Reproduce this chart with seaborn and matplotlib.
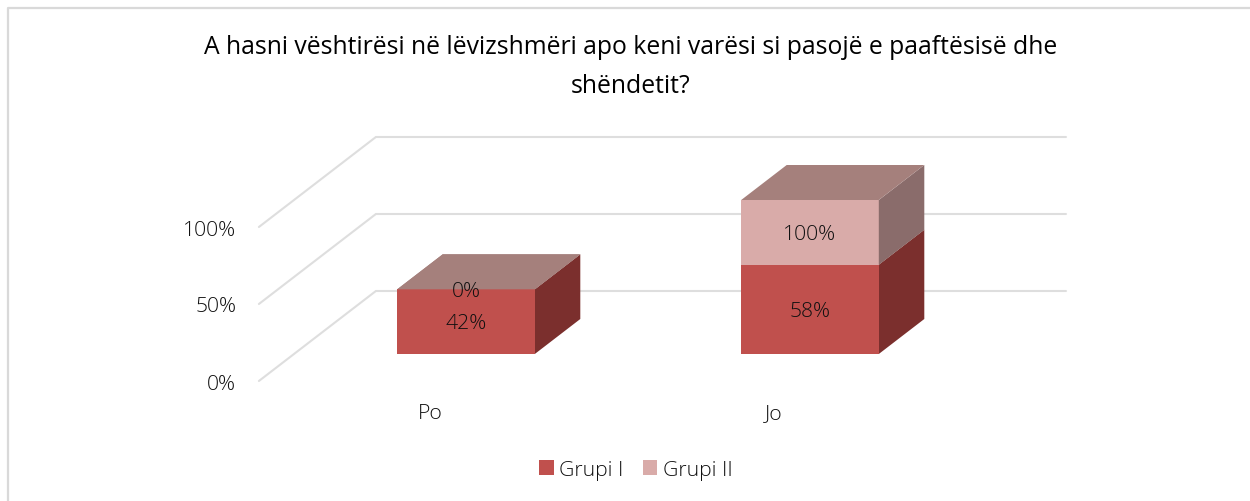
import matplotlib
matplotlib.use("Agg")
import matplotlib.pyplot as plt
from matplotlib.patches import Polygon
from matplotlib.lines import Line2D
from matplotlib.transforms import ScaledTranslation
import seaborn as sns

categories = ["Po", "Jo"]
grupi_1 = [42, 58]
grupi_2 = [0, 42]
labels_1 = ["42%", "58%"]
labels_2 = ["0%", "100%"]
y_ticks = [0, 50, 100]
y_tick_labels = ["0%", "50%", "100%"]
title = ("A hasni vështirësi në lëvizshmëri apo keni varësi si pasojë e paaftësisë dhe\n"
         "shëndetit?")

W, H = 1250, 502
sns.set_theme(style="white")
plt.rcParams["font.family"] = ["Open Sans", "DejaVu Sans"]

fig = plt.figure(figsize=(W / 100, H / 100), dpi=100, facecolor="white")
L, R, B, T = 294.0, 982.0, 355, 201
ax = fig.add_axes([L / W, 1 - B / H, (R - L) / W, (B - T) / H])
ax.patch.set_alpha(0)

RED, PINK = "#C0504D", "#D9ABA9"
RED_SIDE, PINK_SIDE = "#7B2F2D", "#8A6C6B"
TOP = "#A5807C"
GRID = "#DEDEDE"
TEXT = "#111111"
FS = 15.2

sns.barplot(x=categories, y=grupi_1, color=RED, saturation=1, width=0.4,
            ax=ax, label="Grupi I", zorder=3, linewidth=0)
sns.barplot(x=categories, y=grupi_2, bottom=grupi_1, color=PINK, saturation=1, width=0.4,
            ax=ax, label="Grupi II", zorder=3, linewidth=0)
ax.set_xlim(-0.5, 1.5)
ax.set_ylim(0, 100)

px_x = 344.0
px_y = 1.54


def shift(t):
    """oblique offset (data units) for a depth t measured from the bar front plane"""
    return t * 117 / 90 / px_x, t / px_y


front_wall, back_wall = -27, 63
for v in y_ticks:
    dx0, dy0 = shift(front_wall)
    dx1, dy1 = shift(back_wall)
    ax.plot([-0.5 + dx0, -0.5 + dx1, 1.5 + dx1 + 0.006], [v + dy0, v + dy1, v + dy1],
            color=GRID, lw=1.5, clip_on=False, zorder=1, solid_joinstyle="miter")

# 3D faces of the bars; upper segments are painted over lower ones
ddx, ddy = shift(35)
for i, (cont, side) in enumerate(zip(ax.containers, [RED_SIDE, PINK_SIDE])):
    for p in cont:
        x0, x1 = p.get_x(), p.get_x() + p.get_width()
        y0, y1 = p.get_y(), p.get_y() + p.get_height()
        ax.add_patch(Polygon([(x1, y0), (x1 + ddx, y0 + ddy), (x1 + ddx, y1 + ddy), (x1, y1)],
                             closed=True, fc=side, ec="none", zorder=2.1 + i, clip_on=False))
        ax.add_patch(Polygon([(x0, y1), (x1, y1), (x1 + ddx, y1 + ddy), (x0 + ddx, y1 + ddy)],
                             closed=True, fc=TOP, ec="none", zorder=2.2 + i, clip_on=False))

for cont, lab in zip(ax.containers, [labels_1, labels_2]):
    for t in ax.bar_label(cont, labels=lab, label_type="center", fontsize=FS,
                          color=TEXT, fontweight="light"):
        t.set_zorder(6)
        t.xyann = (0, -1.2)

for s in ax.spines.values():
    s.set_visible(False)
ax.grid(False)
ax.set_xlabel("")
ax.set_ylabel("")
ax.set_yticks(y_ticks, y_tick_labels)
ax.tick_params(axis="both", length=0, labelsize=FS, labelcolor=TEXT)
off_y = ScaledTranslation(-53 / 100, -27 / 100, fig.dpi_scale_trans)
for lab in ax.get_yticklabels():
    lab.set_transform(lab.get_transform() + off_y)
    lab.set_fontweight("light")
off_x = ScaledTranslation(-36 / 100, -44 / 100, fig.dpi_scale_trans)
for lab in ax.get_xticklabels():
    lab.set_transform(lab.get_transform() + off_x)
    lab.set_fontweight("light")

handles, names = ax.get_legend_handles_labels()
fig.legend(handles, names, ncol=2, loc="center", bbox_to_anchor=(636 / W, 1 - 471 / H),
           frameon=False, handlelength=0.67, handleheight=0.67,
           handletextpad=0.25, columnspacing=0.95, labelcolor=TEXT,
           prop={"size": FS, "weight": "light"})
if ax.get_legend():
    ax.get_legend().remove()

fig.suptitle(title, x=631 / W, y=1 - 67 / H, va="center", ha="center", fontsize=17.8,
             color="black", linespacing=1.7)

fig.add_artist(Line2D([7.5 / W, 7.5 / W, 1], [0, 1 - 8.5 / H, 1 - 8.5 / H],
                      color="#D9D9D9", lw=1.6, transform=fig.transFigure))
fig.savefig("out.png", dpi=100, facecolor="white")
